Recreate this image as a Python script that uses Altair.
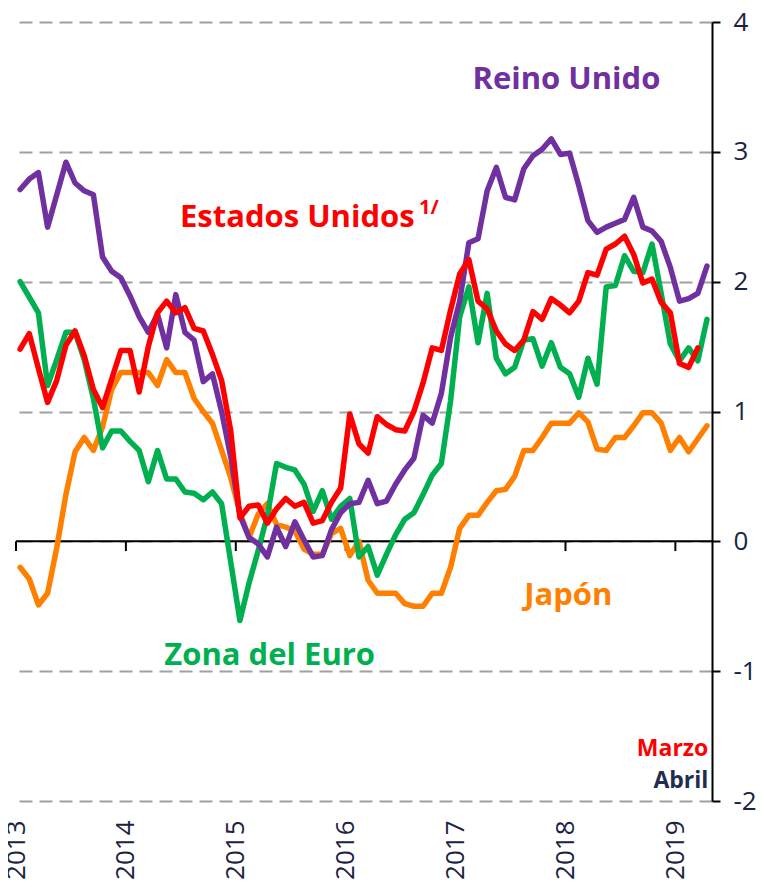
import altair as alt
import pandas as pd

# Monthly inflation, Jan 2013 .. Apr 2019 (Estados Unidos ends Mar 2019)
reino_unido = [2.71, 2.79, 2.84, 2.42, 2.67, 2.92, 2.76, 2.70, 2.67, 2.19, 2.08, 2.03,
               1.89, 1.73, 1.61, 1.75, 1.49, 1.90, 1.61, 1.55, 1.23, 1.29, 1.00, 0.65,
               0.20, 0.03, -0.02, -0.12, 0.11, -0.04, 0.15, 0.01, -0.12, -0.11, 0.09, 0.22,
               0.29, 0.30, 0.47, 0.29, 0.31, 0.44, 0.55, 0.64, 0.97, 0.91, 1.14, 1.57,
               1.85, 2.30, 2.33, 2.70, 2.88, 2.65, 2.63, 2.87, 2.97, 3.02, 3.10, 2.98,
               2.99, 2.74, 2.47, 2.38, 2.42, 2.45, 2.48, 2.65, 2.42, 2.39, 2.31, 2.11,
               1.85, 1.87, 1.91, 2.12]
estados_unidos = [1.48, 1.60, 1.33, 1.07, 1.24, 1.51, 1.62, 1.43, 1.17, 1.03, 1.25, 1.47,
                  1.47, 1.15, 1.50, 1.76, 1.85, 1.76, 1.80, 1.64, 1.62, 1.44, 1.24, 0.85,
                  0.18, 0.27, 0.28, 0.14, 0.25, 0.33, 0.27, 0.30, 0.14, 0.16, 0.30, 0.41,
                  0.98, 0.75, 0.68, 0.96, 0.90, 0.86, 0.85, 1.00, 1.22, 1.49, 1.47, 1.78,
                  2.06, 2.17, 1.85, 1.79, 1.62, 1.52, 1.47, 1.55, 1.77, 1.71, 1.87, 1.82,
                  1.76, 1.85, 2.07, 2.05, 2.25, 2.29, 2.35, 2.21, 1.99, 2.02, 1.84, 1.76,
                  1.37, 1.34, 1.49]
zona_euro = [2.00, 1.88, 1.76, 1.20, 1.40, 1.61, 1.61, 1.40, 1.10, 0.72, 0.85, 0.85,
             0.77, 0.70, 0.46, 0.70, 0.48, 0.48, 0.38, 0.37, 0.32, 0.38, 0.29, -0.16,
             -0.61, -0.32, -0.07, 0.20, 0.60, 0.57, 0.55, 0.44, 0.23, 0.39, 0.17, 0.27,
             0.33, -0.12, -0.04, -0.26, -0.10, 0.05, 0.17, 0.22, 0.36, 0.51, 0.60, 1.08,
             1.73, 1.96, 1.53, 1.91, 1.41, 1.29, 1.34, 1.55, 1.56, 1.35, 1.53, 1.34,
             1.29, 1.11, 1.41, 1.21, 1.96, 1.97, 2.20, 2.08, 2.07, 2.29, 1.91, 1.52,
             1.39, 1.49, 1.39, 1.71]
japon = [-0.20, -0.29, -0.49, -0.40, -0.05, 0.36, 0.69, 0.80, 0.70, 0.88, 1.17, 1.30,
         1.30, 1.30, 1.30, 1.20, 1.40, 1.30, 1.30, 1.10, 1.00, 0.91, 0.70, 0.49,
         0.22, 0.03, 0.21, 0.29, 0.13, 0.11, 0.08, -0.06, -0.10, -0.10, 0.06, 0.10,
         -0.11, 0.00, -0.30, -0.40, -0.40, -0.40, -0.48, -0.50, -0.50, -0.40, -0.40, -0.20,
         0.10, 0.20, 0.20, 0.30, 0.39, 0.40, 0.50, 0.70, 0.70, 0.80, 0.91, 0.91,
         0.91, 0.99, 0.92, 0.71, 0.70, 0.80, 0.80, 0.89, 0.99, 0.99, 0.91, 0.70,
         0.80, 0.69, 0.79, 0.89]

years = [2013, 2014, 2015, 2016, 2017, 2018, 2019]
y_ticks = [-2, -1, 0, 1, 2, 3, 4]

series_names = ["Japón", "Zona del Euro", "Reino Unido", "Estados Unidos"]
series_values = [japon, zona_euro, reino_unido, estados_unidos]
series_colors = ["#FF8000", "#00B050", "#7030A0", "#FF0000"]

ann_texts = ["Reino Unido", "Estados Unidos", "1/", "Japón", "Zona del Euro", "Marzo", "Abril"]
ann_x = [60.1, 17.9, 44.0, 60.3, 27.7, 75.6, 75.6]
ann_y = [3.55, 2.49, 2.57, -0.42, -0.88, -1.60, -1.845]
ann_colors = ["#7030A0", "#FF0000", "#FF0000", "#FF8000", "#00B050", "#FF0000", "#1F2D50"]
ann_sizes = [31, 31, 20, 31, 31, 23, 23]
ann_aligns = ["center", "left", "left", "center", "center", "right", "right"]

FONT = "Open Sans"
LABEL_COLOR = "#1A2440"
N_MONTHS = 76
OFFSET = 0.45

x_scale = alt.Scale(domain=[0, N_MONTHS], nice=False, zero=False)
y_scale = alt.Scale(domain=[-2, 4], nice=False, zero=False)

x_axis = alt.Axis(values=[(y - years[0]) * 12 for y in years],
                  labelExpr="toString(2013 + datum.value / 12)",
                  labelAngle=270, labelAlign="right", labelBaseline="middle",
                  labelPadding=19, ticks=False, tickSize=0, domain=False, grid=False,
                  title=None, labelFontSize=26, labelFont=FONT, labelColor=LABEL_COLOR,
                  labelFlush=False, labelOverlap=False)
y_axis = alt.Axis(orient="right", values=y_ticks,
                  labelExpr="datum.value < 0 ? '-' + toString(abs(datum.value)) : toString(datum.value)",
                  labelAlign="left", labelBaseline="middle", labelPadding=13,
                  labelFontSize=26, labelFont=FONT, labelColor=LABEL_COLOR,
                  tickSize=8, tickColor="black", tickWidth=2,
                  domainColor="black", domainWidth=2,
                  grid=True, gridColor="#A0A0A0", gridDash=[13, 7], gridWidth=2,
                  title=None, labelFlush=False)

# grid / axes holder layer
grid_df = pd.DataFrame({"v": y_ticks, "m": [0] * len(y_ticks)})
base_axes = alt.Chart(grid_df).mark_point(opacity=0).encode(
    x=alt.X("m:Q", scale=x_scale, axis=x_axis),
    y=alt.Y("v:Q", scale=y_scale, axis=y_axis),
)

layers = [base_axes]

# zero line
zero_df = pd.DataFrame({"v": [0]})
layers.append(alt.Chart(zero_df).mark_rule(color="black", strokeWidth=2).encode(
    y=alt.Y("v:Q", scale=y_scale)))

# year ticks on zero line
tick_df = pd.DataFrame({"m": [(y - years[0]) * 12 for y in years], "y0": 0, "y1": -0.075})
layers.append(alt.Chart(tick_df).mark_rule(color="black", strokeWidth=2).encode(
    x=alt.X("m:Q", scale=x_scale),
    y=alt.Y("y0:Q", scale=y_scale), y2="y1:Q"))

for name, vals, col in zip(series_names, series_values, series_colors):
    df = pd.DataFrame({"mes": [i + OFFSET for i in range(len(vals))], "valor": vals})
    layers.append(alt.Chart(df).mark_line(color=col, strokeWidth=5.5, strokeJoin="round",
                                          strokeCap="round").encode(
        x=alt.X("mes:Q", scale=x_scale),
        y=alt.Y("valor:Q", scale=y_scale)))

for t, xx, yy, c, s, a in zip(ann_texts, ann_x, ann_y, ann_colors, ann_sizes, ann_aligns):
    adf = pd.DataFrame({"t": [t], "x": [xx], "y": [yy]})
    layers.append(alt.Chart(adf).mark_text(color=c, fontSize=s, fontWeight="bold", font=FONT,
                                           align=a, baseline="middle").encode(
        x=alt.X("x:Q", scale=x_scale),
        y=alt.Y("y:Q", scale=y_scale), text="t:N"))

chart = alt.layer(*layers).properties(
    width=696, height=779,
    autosize=alt.AutoSizeParams(type="none"),
    padding={"left": 8, "top": 14, "right": 44, "bottom": 78},
).configure_view(stroke=None)

chart.save("out.html", embed_options={"renderer": "svg", "actions": False})
